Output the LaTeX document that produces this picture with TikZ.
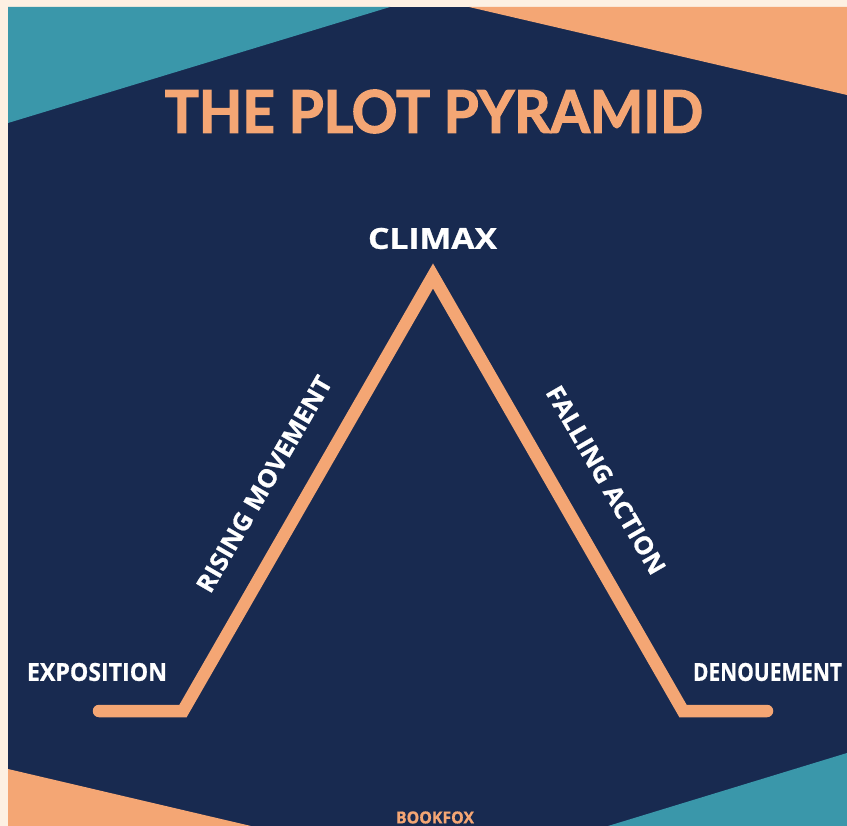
\documentclass[tikz,border=0pt]{standalone}
\usepackage{fontspec}
\usepackage{graphicx}
\newfontfamily\titlefont[FakeBold=2.2]{Lato}
\newfontfamily\labelfont[FakeBold=0.8]{Open Sans}
\definecolor{cream}{HTML}{FDF0E2}
\definecolor{navy}{HTML}{182A50}
\definecolor{teal}{HTML}{3A97AA}
\definecolor{peach}{HTML}{F4A674}
\tikzset{
  lbl/.style={inner sep=0pt, outer sep=0pt, text=white, anchor=center},
  ttl/.style={inner sep=0pt, outer sep=0pt, text=peach, anchor=center},
  plotline/.style={draw=peach, line width=12.5pt, line cap=round, line join=miter}
}
\begin{document}
\begin{tikzpicture}[x=1pt,y=-1pt]
\useasboundingbox (0,0) rectangle (847,826);
\fill[cream] (0,0) rectangle (847,826);
\fill[navy] (8,7) rectangle (847,826);
% corner triangles
\fill[teal] (8,7) -- (390,7) -- (8,123) -- cycle;
\fill[peach] (469,7) -- (847,7) -- (847,95) -- cycle;
\fill[peach] (8,769) -- (251,826) -- (8,826) -- cycle;
\fill[teal] (847,753) -- (847,826) -- (608,826) -- cycle;
% title
\node[ttl] (title) at (434,111.5) {\resizebox{538pt}{43pt}{\titlefont\bfseries THE PLOT PYRAMID}};
% pyramid
\coordinate (s) at (99,711);
\coordinate (bl) at (183,711);
\coordinate (apex) at (433,276);
\coordinate (br) at (683,711);
\coordinate (e) at (767,711);
\draw[plotline] (s) -- (bl) -- (apex) -- (br) -- (e);
% labels
\node[lbl] (climax) at (432.5,238.5) {\resizebox{129pt}{21pt}{\labelfont\bfseries CLIMAX}};
\node[lbl] (expo) at (97,672) {\resizebox{140pt}{18pt}{\labelfont\bfseries EXPOSITION}};
\node[lbl] (deno) at (767.5,672) {\resizebox{149pt}{18pt}{\labelfont\bfseries DENOUEMENT}};
\node[lbl, rotate=60] (rising) at (264,484) {\resizebox{245pt}{18pt}{\labelfont\bfseries RISING MOVEMENT}};
\node[lbl, rotate=-60] (falling) at (606,480) {\resizebox{213pt}{18pt}{\labelfont\bfseries FALLING ACTION}};
\node[ttl] (bookfox) at (435,817.5) {\resizebox{78pt}{12pt}{\labelfont\bfseries BOOKFOX}};
\end{tikzpicture}
\end{document}
